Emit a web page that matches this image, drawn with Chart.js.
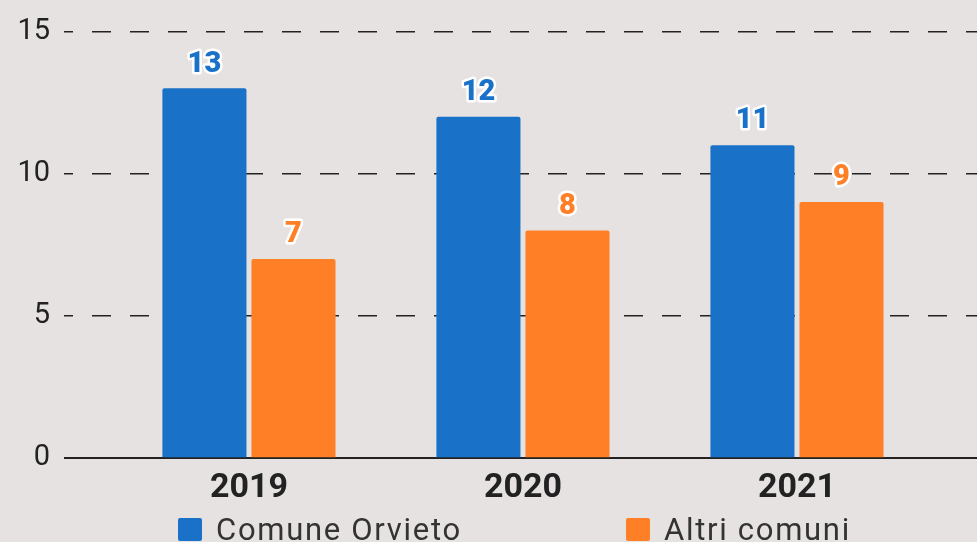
<!DOCTYPE html>
<html>
<head>
<meta charset="utf-8">
<script src="https://cdn.jsdelivr.net/npm/chart.js@4.4.1/dist/chart.umd.min.js"></script>
<style>
  html, body { margin: 0; padding: 0; background: #e6e2e1; overflow: hidden; }
  #wrap { position: relative; width: 977px; height: 542px; }
  #legend .item {
    position: absolute;
    top: 514px;
    height: 31px;
    display: flex;
    align-items: center;
    font: 31px Roboto, sans-serif;
    line-height: 31px;
    letter-spacing: 1.7px;
    color: #333;
    white-space: nowrap;
  }
  #legend .swatch { width: 24px; height: 23px; border-radius: 2px; margin-right: 14px; }
</style>
</head>
<body>
<div id="wrap">
  <canvas id="chart" width="977" height="542"></canvas>
  <div id="legend"></div>
</div>
<script>
const YEARS = ["2019", "2020", "2021"];
const SERIES_NAMES = ["Comune Orvieto", "Altri comuni"];
const ORVIETO = [13, 12, 11];
const ALTRI = [7, 8, 9];
const Y_TICKS = [0, 5, 10, 15];

const COLORS = ["#1971c8", "#ff7f27"];
const LEGEND_LEFT = [178, 626];

function toPoints(values) {
  return values.map((v, i) => ({ x: i, y: v }));
}

// value labels above the bars, white outline like the original
const valueLabels = {
  id: "valueLabels",
  afterDatasetsDraw(chart) {
    const ctx = chart.ctx;
    ctx.save();
    ctx.font = "900 29px Roboto";
    ctx.textAlign = "center";
    ctx.textBaseline = "middle";
    ctx.lineJoin = "round";
    ctx.lineWidth = 5;
    ctx.strokeStyle = "#ffffff";
    chart.data.datasets.forEach((ds, di) => {
      chart.getDatasetMeta(di).data.forEach((bar, i) => {
        const text = String(ds.data[i].y);
        const y = bar.y - 24;
        ctx.strokeText(text, bar.x, y);
        ctx.fillStyle = ds.backgroundColor;
        ctx.fillText(text, bar.x, y);
      });
    });
    ctx.restore();
  },
};

function buildLegend() {
  const legend = document.getElementById("legend");
  SERIES_NAMES.forEach((name, i) => {
    const item = document.createElement("div");
    item.className = "item";
    item.style.left = LEGEND_LEFT[i] + "px";
    const swatch = document.createElement("span");
    swatch.className = "swatch";
    swatch.style.background = COLORS[i];
    const label = document.createElement("span");
    label.textContent = name;
    item.appendChild(swatch);
    item.appendChild(label);
    legend.appendChild(item);
  });
}

const isZero = (c) => c.tick && c.tick.value === 0;

new Chart(document.getElementById("chart"), {
  type: "bar",
  data: {
    datasets: [
      {
        label: SERIES_NAMES[0],
        data: toPoints(ORVIETO),
        backgroundColor: COLORS[0],
        categoryPercentage: 0.65,
        barPercentage: 0.944,
        borderRadius: 2,
      },
      {
        label: SERIES_NAMES[1],
        data: toPoints(ALTRI),
        backgroundColor: COLORS[1],
        categoryPercentage: 0.65,
        barPercentage: 0.944,
        borderRadius: 2,
      },
    ],
  },
  options: {
    responsive: false,
    animation: false,
    devicePixelRatio: 1,
    layout: { padding: { top: 28, left: 0, right: 0, bottom: 31 } },
    plugins: {
      legend: { display: false },
      tooltip: { enabled: false },
    },
    scales: {
      x: {
        type: "linear",
        offset: false,
        min: -0.675,
        max: 2.657,
        grid: { display: false },
        border: { display: false },
        ticks: {
          stepSize: 1,
          includeBounds: false,
          autoSkip: false,
          maxRotation: 0,
          padding: 2,
          color: "#222",
          font: { family: "Roboto", size: 34, weight: "bold" },
          callback: (v) => YEARS[v] ?? "",
        },
      },
      y: {
        min: Y_TICKS[0],
        max: Y_TICKS[Y_TICKS.length - 1],
        afterFit: (scale) => { scale.width = 64; },
        border: {
          display: false,
          dash: (c) => (isZero(c) ? [] : [19, 19]),
          dashOffset: 10,
        },
        grid: {
          drawTicks: false,
          color: "#222",
          lineWidth: (c) => (isZero(c) ? 2 : 1.5),
        },
        ticks: {
          stepSize: 5,
          padding: 14,
          color: "#222",
          font: { family: "Roboto", size: 29 },
        },
      },
    },
  },
  plugins: [valueLabels],
});

buildLegend();
</script>
</body>
</html>
